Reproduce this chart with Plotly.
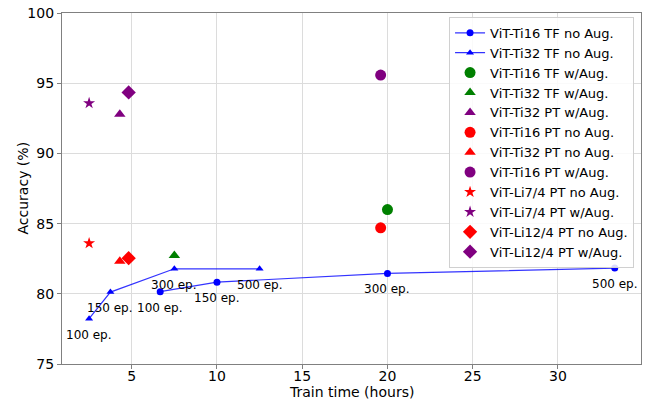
import plotly.graph_objects as go

# ---- data ----
epoch_labels = ["100 ep.", "150 ep.", "300 ep.", "500 ep."]

ti16_tf_noaug_x = [6.67, 10.0, 20.0, 33.33]
ti16_tf_noaug_y = [80.15, 80.83, 81.45, 81.83]

ti32_tf_noaug_x = [2.5, 3.75, 7.5, 12.5]
ti32_tf_noaug_y = [78.23, 80.12, 81.78, 81.78]

ti16_tf_aug = ([20.0], [86.0])
ti32_tf_aug = ([7.5], [82.73])
ti32_pt_aug = ([4.3], [92.78])
ti16_pt_noaug = ([19.6], [84.7])
ti32_pt_noaug = ([4.3], [82.32])
ti16_pt_aug = ([19.6], [95.58])
li7_pt_noaug = ([2.5], [83.6])
li7_pt_aug = ([2.5], [93.58])
li12_pt_noaug = ([4.82], [82.54])
li12_pt_aug = ([4.82], [94.34])

FONT = "DejaVu Sans"

fig = go.Figure()

fig.add_trace(go.Scatter(
    x=ti16_tf_noaug_x, y=ti16_tf_noaug_y, mode="lines+markers",
    name="ViT-Ti16 TF no Aug.",
    line=dict(color="rgba(0,0,255,0.8)", width=1.2),
    marker=dict(symbol="circle", size=7, color="blue"),
))
fig.add_trace(go.Scatter(
    x=ti32_tf_noaug_x, y=ti32_tf_noaug_y, mode="lines+markers",
    name="ViT-Ti32 TF no Aug.",
    line=dict(color="rgba(0,0,255,0.8)", width=1.2),
    marker=dict(symbol="triangle-up", size=7, color="blue"),
))

singles = [
    ("ViT-Ti16 TF w/Aug.", ti16_tf_aug, "circle", 11, "green"),
    ("ViT-Ti32 TF w/Aug.", ti32_tf_aug, "triangle-up", 10, "green"),
    ("ViT-Ti32 PT w/Aug.", ti32_pt_aug, "triangle-up", 10, "purple"),
    ("ViT-Ti16 PT no Aug.", ti16_pt_noaug, "circle", 11, "red"),
    ("ViT-Ti32 PT no Aug.", ti32_pt_noaug, "triangle-up", 10, "red"),
    ("ViT-Ti16 PT w/Aug.", ti16_pt_aug, "circle", 11, "purple"),
    ("ViT-Li7/4 PT no Aug.", li7_pt_noaug, "star", 9, "red"),
    ("ViT-Li7/4 PT w/Aug.", li7_pt_aug, "star", 9, "purple"),
    ("ViT-Li12/4 PT no Aug.", li12_pt_noaug, "diamond", 11, "red"),
    ("ViT-Li12/4 PT w/Aug.", li12_pt_aug, "diamond", 11, "purple"),
]
for name, (xs, ys), sym, sz, col in singles:
    fig.add_trace(go.Scatter(
        x=xs, y=ys, mode="markers", name=name,
        marker=dict(symbol=sym, size=sz, color=col, line=dict(width=0)),
    ))

annotations = []
for xs, ys in [(ti32_tf_noaug_x, ti32_tf_noaug_y), (ti16_tf_noaug_x, ti16_tf_noaug_y)]:
    for xv, yv, lab in zip(xs, ys, epoch_labels):
        annotations.append(dict(
            x=xv, y=yv, text=lab, showarrow=False, yshift=-16,
            xanchor="center", yanchor="middle",
            font=dict(family=FONT, size=12, color="black"),
        ))

# axis titles as paper annotations for exact placement
annotations.append(dict(
    x=0.5, y=0, xref="paper", yref="paper", text="Train time (hours)",
    showarrow=False, xanchor="center", yanchor="middle", yshift=-28,
    font=dict(family=FONT, size=14, color="black"),
))
annotations.append(dict(
    x=0, y=0.5, xref="paper", yref="paper", text="Accuracy (%)",
    showarrow=False, xanchor="center", yanchor="middle", xshift=-40, textangle=-90,
    font=dict(family=FONT, size=14, color="black"),
))

axis_common = dict(
    showgrid=True, gridcolor="#dcdcdc", gridwidth=1,
    showline=True, linecolor="#808080", linewidth=1.2, mirror=True,
    ticks="outside", ticklen=4, tickcolor="#808080",
    tickfont=dict(family=FONT, size=14, color="black"),
    zeroline=False, automargin=False,
)

fig.update_layout(
    width=651, height=401,
    margin=dict(l=62, r=10, t=13, b=37),
    paper_bgcolor="white", plot_bgcolor="white",
    font=dict(family=FONT, color="black"),
    xaxis=dict(range=[0.91, 34.87], tickvals=[5, 10, 15, 20, 25, 30],
               ticklabelstandoff=-5, **axis_common),
    yaxis=dict(range=[75, 100], tickvals=[75, 80, 85, 90, 95, 100],
               **axis_common),
    legend=dict(
        x=0.988, y=0.989, xanchor="right", yanchor="top",
        bgcolor="rgba(255,255,255,0.85)", bordercolor="#d0d0d0", borderwidth=1,
        font=dict(family=FONT, size=13, color="black"),
        itemwidth=30,
    ),
    annotations=annotations,
    showlegend=True,
)

fig.write_html("out.html", config={"displayModeBar": False},
               post_script="document.body.style.margin='0';")
